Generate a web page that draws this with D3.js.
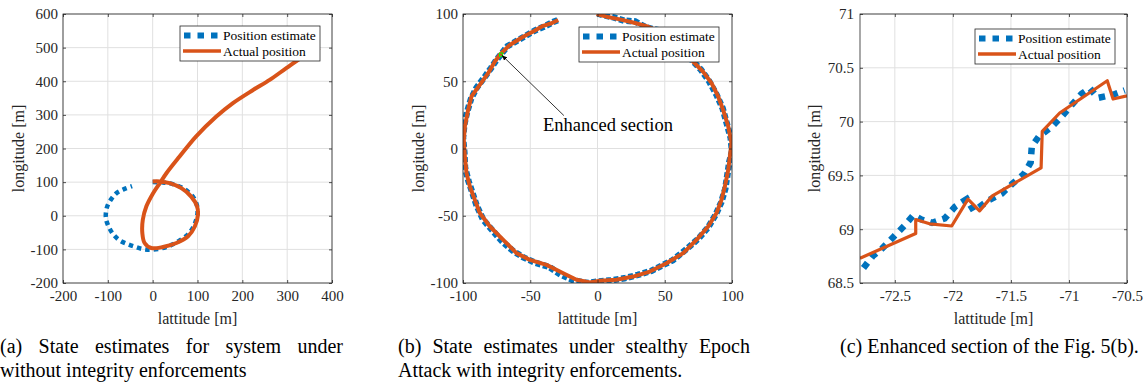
<!DOCTYPE html>
<html>
<head>
<meta charset="utf-8">
<script src="https://cdn.jsdelivr.net/npm/d3@7"></script>
<style>
  body { margin: 0; background: #fff; }
  svg { display: block; font-family: "Liberation Serif", "Times New Roman", serif; }
</style>
</head>
<body>
<svg id="fig" width="1146" height="392"></svg>
<script>
// ---------- data ----------
// (a) no integrity enforcement
const estAX = [0, 23, 45, 65, 80, 92, 99, 100, 97, 90, 79, 62, 45, 30, 12, -5, -22, -40, -57, -74, -88, -98, -104, -104, -100, -92, -80, -64, -46];
const estAY = [100, 99, 94, 84, 70, 52, 30, 8, -12, -35, -55, -72, -85, -93, -99, -101, -99, -92, -84, -73, -55, -33, -10, 13, 32, 50, 68, 79, 88];
const actAX = [0, 16, 38, 64, 86, 99, 101, 94, 79, 53, 23, -3, -18, -23, -22, -14, 1, 16, 31, 60, 97, 142, 179, 224, 261, 298, 335, 372];
const actAY = [102, 102, 97, 82, 57, 28, 3, -32, -61, -81, -93, -96, -81, -52, -12, 28, 67, 97, 127, 176, 236, 295, 335, 374, 404, 439, 473, 500];

// (b) stealthy epoch attack, integrity enforced
const estBX = [0, 5, 12, 20, 28, 36, 45, 54, 62, 70, 77, 83, 88.5, 93, 96, 99, 100, 98, 96.5, 95, 92, 88, 82, 75, 66, 56, 48, 40, 30, 20, 10, 0, -8, -18, -27, -36, -46, -55, -63, -71, -78, -85, -90, -93, -96, -98.5, -99, -100, -99, -97, -94, -90, -84, -79, -75, -71, -67, -60, -53, -46, -40, -33, -28];
const estBY = [100.5, 99, 97.5, 95, 94.5, 90, 88, 83, 75, 66, 58.5, 50, 40, 30, 19, 8, -2, -10, -20, -30, -40, -49, -59, -67, -75, -83, -87, -91, -94, -96.5, -98, -99, -100, -98, -94, -88, -85, -81, -76, -69, -61, -53, -42, -33, -24, -14, -3, 8, 18, 27, 37, 45, 53, 60, 66, 71, 76, 80, 84, 88, 90.5, 94, 96];
const actBX = [-0.7, 6.7, 16.6, 26.5, 36.4, 46, 55, 63, 71, 78.6, 84.8, 89.7, 93.4, 97.2, 99.6, 98.4, 97.2, 94.7, 92.2, 88.5, 82.3, 73.6, 63.7, 51.3, 38.9, 26.5, 14.1, 1.7, -5.7, -15.6, -25.5, -37.9, -50.3, -60.2, -70.1, -80, -87.5, -91.2, -94.9, -97.4, -98.6, -99.4, -98.6, -96.2, -93.7, -87.5, -81.3, -76.3, -72, -65.2, -55.3, -47.8, -40.4, -34.2, -29.2];
const actBY = [100, 98, 96, 93.7, 91, 87, 82, 74, 64.7, 57, 48.6, 38.7, 28.7, 16.4, 4, -6, -15.9, -28.3, -38.2, -48, -58, -67.9, -77.8, -85.3, -91.5, -95.2, -97.6, -98.4, -99.6, -97.6, -92.7, -86.5, -82.8, -77.8, -67.9, -58, -48, -38.2, -28.3, -18.3, -6, 6.4, 16.4, 28.7, 38.7, 47.3, 56, 64.7, 70.4, 77, 83.1, 87, 91.2, 93.1, 95.5];

// (c) enhanced section
const estCX = [-72.77, -72.69, -72.61, -72.51, -72.42, -72.34, -72.27, -72.18, -72.07, -71.98, -71.88, -71.82, -71.69, -71.58, -71.49, -71.39, -71.33, -71.32, -71.26, -71.15, -71.06, -70.98, -70.89, -70.82, -70.75, -70.62, -70.52];
const estCY = [68.64, 68.75, 68.82, 68.93, 69.03, 69.13, 69.09, 69.06, 69.10, 69.21, 69.28, 69.17, 69.27, 69.33, 69.42, 69.51, 69.62, 69.77, 69.86, 69.95, 70.05, 70.15, 70.26, 70.31, 70.22, 70.25, 70.29];
const actCX = [-72.80, -72.32, -72.32, -72.20, -72.01, -71.87, -71.77, -71.66, -71.24, -71.23, -71.08, -70.67, -70.62, -70.50];
const actCY = [68.73, 68.96, 69.09, 69.05, 69.03, 69.28, 69.17, 69.31, 69.57, 69.91, 70.08, 70.38, 70.21, 70.24];

// axis limits and ticks
const xDomainA = [-200, 400], yDomainA = [-200, 600];
const xTicksA = [-200, -100, 0, 100, 200, 300, 400];
const yTicksA = [-200, -100, 0, 100, 200, 300, 400, 500, 600];
const xDomainB = [-100, 100], yDomainB = [-100, 100];
const xTicksB = [-100, -50, 0, 50, 100];
const yTicksB = [-100, -50, 0, 50, 100];
const xDomainC = [-72.8, -70.5], yDomainC = [68.5, 71];
const xTicksC = [-72.5, -72, -71.5, -71, -70.5];
const yTicksC = [68.5, 69, 69.5, 70, 70.5, 71];

const seriesNames = ["Position estimate", "Actual position"];
const captionA = ["(a) State estimates for system under", "without integrity enforcements"];
const captionB = ["(b) State estimates under stealthy Epoch", "Attack with integrity enforcements."];
const captionC = ["(c) Enhanced section of the Fig. 5(b)."];

// ---------- drawing ----------
const BLUE = "#0072BD", ORANGE = "#D95319", INK = "#262626", GRID = "#e0e0e0";
const svg = d3.select("#fig");
const zip = (xs, ys) => xs.map((v, i) => [v, ys[i]]);

function drawPanel(o) {
  const x = d3.scaleLinear().domain(o.xDomain).range([o.left, o.right]);
  const y = d3.scaleLinear().domain(o.yDomain).range([o.bottom, o.top]);
  const g = svg.append("g");
  const clipId = "clip-" + o.id;
  g.append("clipPath").attr("id", clipId).append("rect")
    .attr("x", o.left).attr("y", o.top)
    .attr("width", o.right - o.left).attr("height", o.bottom - o.top);

  // grid
  g.append("g").selectAll("line").data(o.xTicks).join("line")
    .attr("x1", d => x(d)).attr("x2", d => x(d)).attr("y1", o.top).attr("y2", o.bottom)
    .attr("stroke", GRID).attr("stroke-width", 1);
  g.append("g").selectAll("line").data(o.yTicks).join("line")
    .attr("y1", d => y(d)).attr("y2", d => y(d)).attr("x1", o.left).attr("x2", o.right)
    .attr("stroke", GRID).attr("stroke-width", 1);

  const line = d3.line().x(d => x(d[0])).y(d => y(d[1])).curve(o.curve || d3.curveLinear);
  const plot = g.append("g").attr("clip-path", `url(#${clipId})`);
  plot.append("path").datum(o.est)
    .attr("fill", "none").attr("stroke", BLUE).attr("stroke-width", o.estWidth)
    .attr("stroke-dasharray", o.estDash).attr("d", line);
  plot.append("path").datum(o.act)
    .attr("fill", "none").attr("stroke", ORANGE).attr("stroke-width", o.actWidth)
    .attr("stroke-linejoin", "round").attr("d", line);

  // axes
  const fmt = d => String(d);
  const styleAxis = sel => {
    sel.select(".domain").remove();
    sel.selectAll(".tick line").attr("stroke", INK).attr("stroke-width", 0.8);
    sel.selectAll(".tick text").attr("fill", INK).attr("font-size", 15)
      .attr("font-family", "Liberation Serif, Times New Roman, serif");
  };
  g.append("g").attr("transform", `translate(0,${o.bottom})`)
    .call(d3.axisBottom(x).tickValues(o.xTicks).tickFormat(fmt).tickSizeInner(-3).tickSizeOuter(0).tickPadding(7))
    .call(styleAxis);
  g.append("g").attr("transform", `translate(${o.left},0)`)
    .call(d3.axisLeft(y).tickValues(o.yTicks).tickFormat(fmt).tickSizeInner(-3).tickSizeOuter(0).tickPadding(o.yPad))
    .call(styleAxis);
  g.append("g").attr("transform", `translate(0,${o.top})`)
    .call(d3.axisTop(x).tickValues(o.xTicks).tickFormat("").tickSizeInner(-3).tickSizeOuter(0))
    .call(styleAxis);
  g.append("g").attr("transform", `translate(${o.right},0)`)
    .call(d3.axisRight(y).tickValues(o.yTicks).tickFormat("").tickSizeInner(-3).tickSizeOuter(0))
    .call(styleAxis);
  g.append("rect").attr("x", o.left).attr("y", o.top)
    .attr("width", o.right - o.left).attr("height", o.bottom - o.top)
    .attr("fill", "none").attr("stroke", INK).attr("stroke-width", 0.8);

  // axis labels
  g.append("text").attr("x", (o.left + o.right) / 2).attr("y", 324)
    .attr("text-anchor", "middle").attr("font-size", 16).attr("fill", INK).text("lattitude [m]");
  g.append("text").attr("transform", `translate(${o.ylabelX},${(o.top + o.bottom) / 2}) rotate(-90)`)
    .attr("text-anchor", "middle").attr("font-size", 16).attr("fill", INK).text("longitude [m]");

  // legend
  const lw = 140, lh = 35;
  const lx = o.right - o.legInset[0] - lw, ly = o.top + o.legInset[1];
  const leg = g.append("g");
  leg.append("rect").attr("x", lx).attr("y", ly).attr("width", lw).attr("height", lh)
    .attr("fill", "#fff").attr("stroke", INK).attr("stroke-width", 0.8);
  leg.append("line").attr("x1", lx + 4).attr("x2", lx + 42).attr("y1", ly + 9.5).attr("y2", ly + 9.5)
    .attr("stroke", BLUE).attr("stroke-width", 6).attr("stroke-dasharray", "6.5 7");
  leg.append("line").attr("x1", lx + 3).attr("x2", lx + 41).attr("y1", ly + 25).attr("y2", ly + 25)
    .attr("stroke", ORANGE).attr("stroke-width", 3.5);
  leg.selectAll("text").data(seriesNames).join("text")
    .attr("x", lx + 43).attr("y", (d, i) => ly + 14 + i * 15.5)
    .attr("font-size", 13.5).attr("fill", "#000").text(d => d);

  return { x, y, g };
}

function caption(lines, x0, width, y0, size) {
  const t = svg.append("text").attr("font-size", size).attr("fill", "#000");
  lines.forEach((ln, i) => {
    const yy = y0 + i * 23.5;
    const justify = width && i < lines.length - 1;
    if (!justify) {
      t.append("tspan").attr("x", x0).attr("y", yy).text(ln);
      return;
    }
    const words = ln.split(" ");
    const spans = words.map(w => t.append("tspan").attr("y", yy).text(w));
    const ws = spans.map(s => s.node().getComputedTextLength());
    const gap = (width - d3.sum(ws)) / (words.length - 1);
    let cx = x0;
    spans.forEach((s, k) => { s.attr("x", cx); cx += ws[k] + gap; });
  });
}

drawPanel({
  id: "a", left: 63, right: 332, top: 14, bottom: 283,
  xDomain: xDomainA, yDomain: yDomainA, xTicks: xTicksA, yTicks: yTicksA,
  est: zip(estAX, estAY), act: zip(actAX, actAY), curve: d3.curveCatmullRom,
  estWidth: 4.5, estDash: "4.5 4", actWidth: 4, yPad: 5, ylabelX: 24, legInset: [12, 12]
});

const pb = drawPanel({
  id: "b", left: 463, right: 732, top: 14, bottom: 283,
  xDomain: xDomainB, yDomain: yDomainB, xTicks: xTicksB, yTicks: yTicksB,
  est: zip(estBX, estBY), act: zip(actBX, actBY),
  estWidth: 6.5, estDash: "5 2.5", actWidth: 4, yPad: 5, ylabelX: 424, legInset: [13, 13]
});

// enhanced-section marker and arrow in (b)
svg.append("defs").append("marker").attr("id", "arrow").attr("viewBox", "0 0 10 10")
  .attr("refX", 10).attr("refY", 5).attr("markerWidth", 7).attr("markerHeight", 7)
  .attr("orient", "auto-start-reverse")
  .append("path").attr("d", "M0,1 L10,5 L0,9 z").attr("fill", "#000");
pb.g.append("rect")
  .attr("x", pb.x(xDomainC[0])).attr("y", pb.y(yDomainC[1]))
  .attr("width", pb.x(xDomainC[1]) - pb.x(xDomainC[0]))
  .attr("height", pb.y(yDomainC[0]) - pb.y(yDomainC[1]))
  .attr("fill", "none").attr("stroke", "#00ff00").attr("stroke-width", 1);
pb.g.append("line")
  .attr("x1", pb.x(-25)).attr("y1", pb.y(24.5))
  .attr("x2", pb.x(-71.2)).attr("y2", pb.y(69.4))
  .attr("stroke", "#000").attr("stroke-width", 0.8).attr("marker-end", "url(#arrow)");
pb.g.append("text").attr("x", pb.x(-40.5)).attr("y", pb.y(13))
  .attr("font-size", 18.5).attr("fill", "#000").text("Enhanced section");

drawPanel({
  id: "c", left: 860, right: 1127, top: 14, bottom: 283,
  xDomain: xDomainC, yDomain: yDomainC, xTicks: xTicksC, yTicks: yTicksC,
  est: zip(estCX, estCY), act: zip(actCX, actCY),
  estWidth: 6.5, estDash: "6.5 6.5", actWidth: 3.2, yPad: 6, ylabelX: 820, legInset: [12, 15]
});

caption(captionA, 0, 343, 353, 20);
caption(captionB, 398, 352, 353, 20);
caption(captionC, 840, 0, 353, 20);
</script>
</body>
</html>
